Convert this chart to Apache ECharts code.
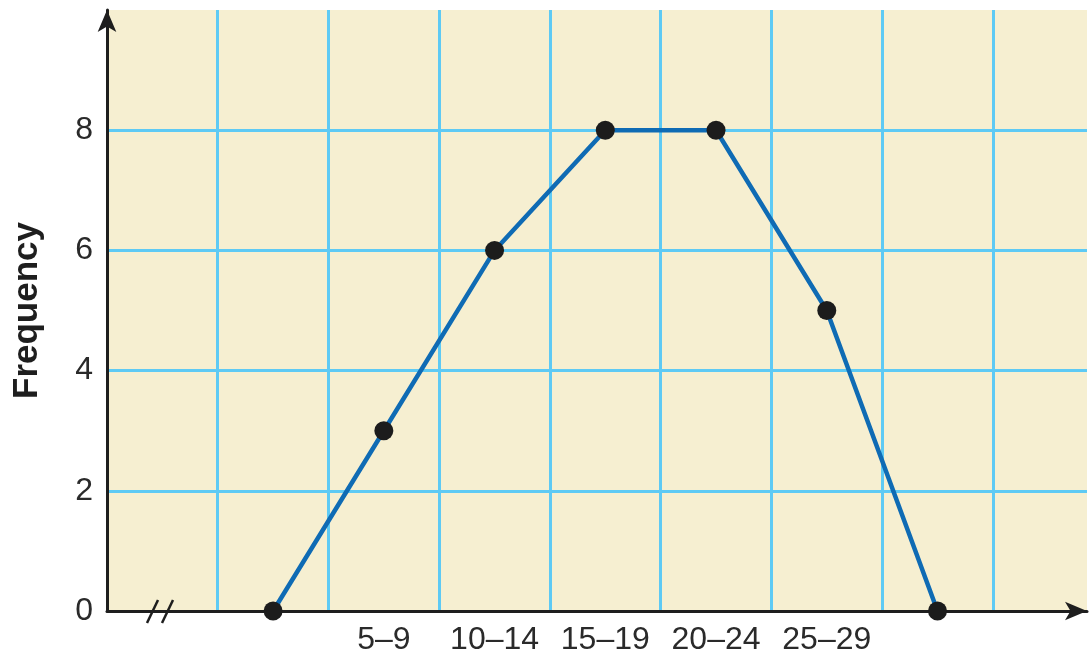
<!DOCTYPE html>
<html>
<head>
<meta charset="utf-8">
<script src="https://cdn.jsdelivr.net/npm/echarts@6/dist/echarts.min.js"></script>
<style>
html,body{margin:0;padding:0;background:#fff;}
#c{width:1089px;height:657px;}
</style>
</head>
<body>
<div id="c"></div>
<script>
// Class intervals (blank = empty class at each end of the polygon)
const classLabels = ['', '5–9', '10–14', '15–19', '20–24', '25–29', ''];
const frequencies = [0, 3, 6, 8, 8, 5, 0];
const firstClassSlot = 1;      // the polygon starts in the 2nd cell of the grid
const yTicks = [0, 2, 4, 6, 8];
const yMax = 10;
const xMax = 8.85;

const points = frequencies.map((f, i) => [firstClassSlot + i + 0.5, f]);
function labelFor(v) {
  const i = Math.round(v - 0.5 - firstClassSlot);
  if (Math.abs(v - 0.5 - Math.floor(v)) > 1e-6) return '';
  return classLabels[i] !== undefined ? classLabels[i] : '';
}

const chart = echarts.init(document.getElementById('c'), null, {renderer: 'canvas'});
const font = 'Liberation Sans, Arial, Helvetica, sans-serif';
chart.setOption({
  animation: false,
  backgroundColor: '#ffffff',
  grid: {left: 107, right: 2, top: 10, bottom: 46, show: true, backgroundColor: '#f6efd1', borderWidth: 0},
  xAxis: [{
    type: 'value', min: 0, max: xMax, interval: 1,
    axisLine: {show: true, symbol: ['none', 'arrow'], symbolSize: [14, 22], lineStyle: {color: '#1e1e1e', width: 3}},
    axisTick: {show: false},
    axisLabel: {show: false},
    splitLine: {show: true, showMinLine: false, showMaxLine: false, lineStyle: {color: '#5ecaf4', width: 3}}
  }, {
    type: 'value', min: 0, max: xMax, interval: 0.5, position: 'bottom',
    axisLine: {show: false}, axisTick: {show: false},
    splitLine: {show: false},
    axisLabel: {show: true, margin: 13, fontSize: 32, color: '#2a2a2a', fontFamily: font, formatter: labelFor, showMinLabel: false, showMaxLabel: false}
  }],
  yAxis: {
    type: 'value', min: 0, max: yMax, interval: 2,
    name: 'Frequency', nameLocation: 'middle', nameRotate: 90, nameGap: 62,
    nameTextStyle: {fontSize: 35, fontWeight: 'bold', color: '#1e1e1e', fontFamily: font},
    axisLine: {show: true, symbol: ['none', 'arrow'], symbolSize: [14, 22], lineStyle: {color: '#1e1e1e', width: 3}},
    axisTick: {show: false},
    axisLabel: {margin: 14, fontSize: 32, color: '#2a2a2a', fontFamily: font,
      formatter: v => (yTicks.indexOf(v) >= 0 ? String(v) : '')},
    splitLine: {show: true, showMinLine: false, showMaxLine: false, lineStyle: {color: '#5ecaf4', width: 3}}
  },
  series: [{
    type: 'line', xAxisIndex: 0, data: points,
    symbol: 'circle', symbolSize: 19,
    itemStyle: {color: '#1c1c1c'},
    lineStyle: {color: '#0f6bb4', width: 4.5},
    z: 5
  }],
  graphic: [
    {type: 'line', shape: {x1: 147, y1: 623, x2: 158, y2: 600}, style: {stroke: '#1e1e1e', lineWidth: 2.5}, z: 10},
    {type: 'line', shape: {x1: 162, y1: 623, x2: 173, y2: 600}, style: {stroke: '#1e1e1e', lineWidth: 2.5}, z: 10}
  ]
});
</script>
</body>
</html>
